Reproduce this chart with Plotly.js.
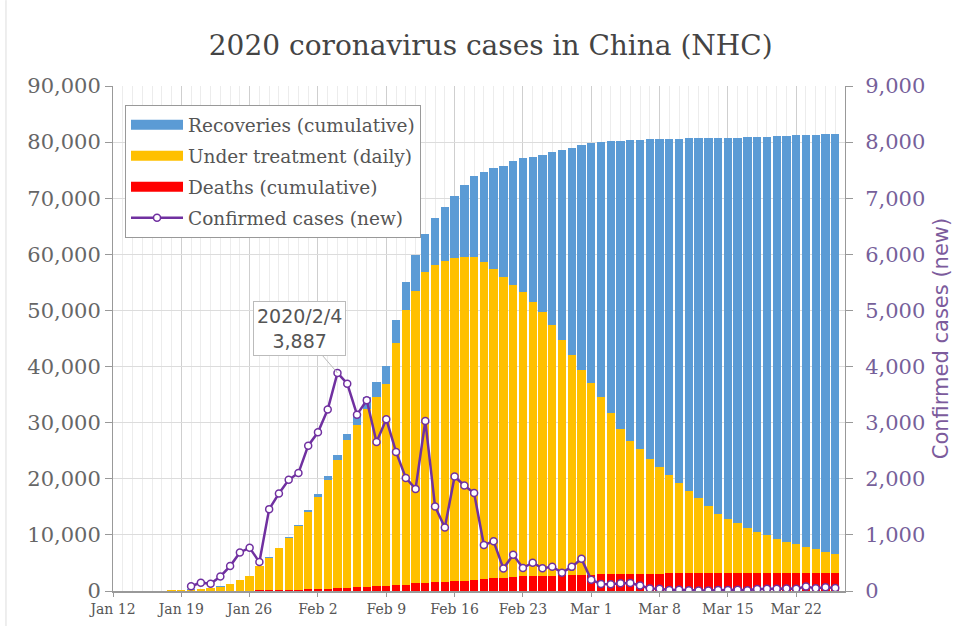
<!DOCTYPE html>
<html>
<head>
<meta charset="utf-8">
<script src="https://cdn.plot.ly/plotly-3.0.1.min.js"></script>
<style>
  html, body { margin: 0; padding: 0; background: #fff; }
  #chart { width: 957px; height: 626px; }
</style>
</head>
<body>
<div id="chart"></div>
<script>
// ---- data (Jan 12 .. Mar 26, 2020) ----
var startDate = '2020-01-12';
var dayCount = 75;

var deaths = [1,1,1,1,2,2,2,3,
  6,9,17,25,41,56,80,106,132,170,213,259,
  304,361,425,490,563,636,722,811,908,1016,1113,1367,1380,1523,1665,1770,1868,2004,2118,2236,2345,2442,2592,2663,2715,2744,2788,2835,2870,
  2912,2943,2981,3012,3042,3070,3097,3119,3136,3158,3169,3176,3189,3199,3204,3218,3231,3242,3249,3253,3261,3267,3276,3283,3287,3293];

var underTreatment = [38,38,35,33,36,48,104,178,
  260,403,526,771,1208,1870,2613,4349,5739,7417,9308,11289,
  13748,16369,19381,22942,26302,28985,31774,33738,35982,43124,48967,52133,55520,56577,57135,57580,57732,57446,56532,55064,53555,52158,50608,48837,46985,44656,42012,39165,36530,
  34088,31557,28819,25888,23758,22230,20503,18981,17464,16042,14731,13324,12011,10601,9696,8882,7969,7258,6651,6047,5539,5083,4624,4167,3713,3307];

var recoveries = [2,2,5,7,7,12,15,17,
  25,28,28,34,38,49,51,60,103,124,171,243,
  328,475,632,892,1153,1540,2050,2649,3281,4160,5020,6300,6800,8350,9700,11050,12700,14600,16000,18100,19900,21950,23900,25850,28050,30850,33800,37000,40050,
  42850,45550,48350,51350,53550,55150,56900,58450,60000,61430,62770,64190,65510,66930,67860,68690,69630,70370,71050,71710,72320,72850,73380,73880,74380,74820];

// new confirmed cases, Jan 20 .. Mar 26
var newCasesStart = 8;
var newCases = [85,149,131,259,444,688,769,515,1459,1737,1982,2102,
  2590,2829,3235,3887,3694,3143,3399,2656,3062,2478,2015,1820,3030,1505,1130,2040,1880,1745,820,885,400,645,410,505,405,433,327,430,573,
  200,125,119,139,143,99,44,40,19,24,15,8,11,20,16,21,13,34,39,41,46,39,78,47,67,55];

var weekTicks = ['Jan 12','Jan 19','Jan 26','Feb 2','Feb 9','Feb 16','Feb 23','Mar 1','Mar 8','Mar 15','Mar 22'];

var peakDate = '2020-02-04';
var peakValue = 3887;

// ---- build date categories ----
function pad(n){ return (n < 10 ? '0' : '') + n; }
var dates = [];
var t0 = Date.UTC(2020, 0, 12);
for (var i = 0; i < dayCount; i++) {
  var d = new Date(t0 + i * 86400000);
  dates.push(d.getUTCFullYear() + '-' + pad(d.getUTCMonth() + 1) + '-' + pad(d.getUTCDate()));
}
var tickVals = [];
for (var k = 0; k < weekTicks.length; k++) tickVals.push(dates[k * 7]);

var cBlue = '#5b9bd5', cYellow = '#ffc000', cRed = '#ff0000', cPurple = '#7030a0';
var serif = 'DejaVu Serif, serif';
var sans = 'DejaVu Sans, sans-serif';

var traces = [
  {type:'bar', x:dates, y:deaths, marker:{color:cRed}, showlegend:false, hoverinfo:'skip'},
  {type:'bar', x:dates, y:underTreatment, marker:{color:cYellow}, showlegend:false, hoverinfo:'skip'},
  {type:'bar', x:dates, y:recoveries, marker:{color:cBlue}, showlegend:false, hoverinfo:'skip'},
  {type:'scatter', mode:'lines+markers', x:dates.slice(newCasesStart), y:newCases, yaxis:'y2',
   name:'Confirmed cases (new)', legendrank:4, legendgroup:'d',
   line:{color:cPurple, width:2.5},
   marker:{symbol:'circle', size:7, color:'#fff', line:{color:cPurple, width:1.5}}},
  {type:'scatter', mode:'lines', x:[null], y:[null], name:'Recoveries (cumulative)', legendrank:1, legendgroup:'a', line:{color:cBlue, width:10}},
  {type:'scatter', mode:'lines', x:[null], y:[null], name:'Under treatment (daily)', legendrank:2, legendgroup:'b', line:{color:cYellow, width:10}},
  {type:'scatter', mode:'lines', x:[null], y:[null], name:'Deaths (cumulative)', legendrank:3, legendgroup:'c', line:{color:cRed, width:10}}
];

var layout = {
  width: 957, height: 626,
  margin: {l:113, r:112, t:86, b:35},
  paper_bgcolor:'#fff', plot_bgcolor:'#fff',
  barmode:'stack', bargap:0.15,
  title: {text:'2020 coronavirus cases in China (NHC)', font:{family:serif, size:28, color:'#444'},
          x:0.516, xref:'paper', xanchor:'center', y:0.928, yanchor:'middle'},
  xaxis: {type:'date', range:['2020-01-12','2020-03-27'],
          tickmode:'array', tickvals:tickVals, ticktext:weekTicks,
          ticks:'outside', ticklen:4, tickcolor:'#999', tickwidth:1,
          showline:true, linecolor:'#999', linewidth:2,
          showgrid:true, gridcolor:'#cfcfcf', gridwidth:1,
          minor:{dtick:86400000, tick0:'2020-01-12', showgrid:true, gridcolor:'#ececec', ticks:''},
          tickfont:{family:serif, size:14, color:'#555'}, zeroline:false},
  yaxis: {range:[0,90000], dtick:10000, tickformat:',d', showline:true, linecolor:'#999', linewidth:1,
          ticks:'outside', ticklen:7, tickcolor:'#999', gridcolor:'#dcdcdc', zeroline:false,
          tickfont:{family:serif, size:21, color:'#666'}},
  yaxis2: {overlaying:'y', side:'right', range:[0,9000], dtick:1000, tickformat:',d',
           showgrid:false, zeroline:false, showline:true, linecolor:'#999', linewidth:1,
           ticks:'outside', ticklen:7, tickcolor:'#999', ticklabelstandoff:8,
           tickfont:{family:serif, size:21, color:'#76609a'},
           title:{text:'Confirmed cases (new)', font:{family:sans, size:21, color:'#7c5b9c'}, standoff:8}},
  legend: {x:0.0164, y:0.962, xanchor:'left', yanchor:'top', bgcolor:'#fff', bordercolor:'#999', borderwidth:1,
           font:{family:serif, size:18.5, color:'#555'}, itemwidth:52, traceorder:'grouped', tracegroupgap:4},
  annotations: [{x:peakDate, y:peakValue, xref:'x', yref:'y2', text:'2020/2/4<br>3,887',
                 showarrow:true, arrowhead:0, arrowwidth:1, arrowcolor:'#bbb', ax:-38, ay:-44,
                 bgcolor:'#fff', bordercolor:'#bbb', borderwidth:1, borderpad:3,
                 font:{family:sans, size:19, color:'#555'}}],
  shapes: [{type:'line', xref:'paper', yref:'paper', x0:-0.1462, x1:-0.1462, y0:-0.07, y1:1.17,
            line:{color:'#dddddd', width:1}}],
  hovermode:false
};

Plotly.newPlot('chart', traces, layout, {displayModeBar:false, staticPlot:true});
</script>
</body>
</html>
